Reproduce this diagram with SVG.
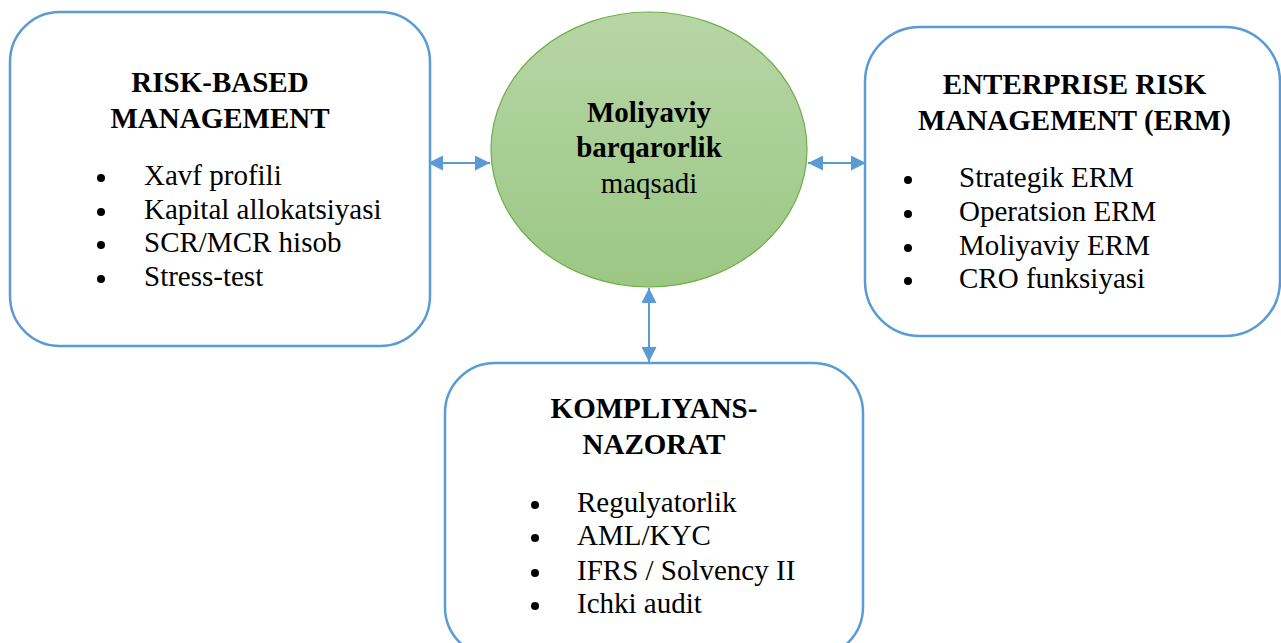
<svg xmlns="http://www.w3.org/2000/svg" width="1281" height="643" viewBox="0 0 1281 643">
<style>
.box{fill:#ffffff;stroke:#5B9BD5;stroke-width:2.5}
.t{font-family:"Liberation Serif","Times New Roman",serif;font-size:29px;fill:#000}
.b{font-weight:bold}
.m{text-anchor:middle}
.dot{fill:#000}
.conn{stroke:#5B9BD5;stroke-width:2;fill:none;marker-start:url(#ah);marker-end:url(#ah)}
</style>
<defs>
<linearGradient id="g" x1="0" y1="0" x2="0" y2="1">
<stop offset="0" stop-color="#B7D6A6"/>
<stop offset="1" stop-color="#9BC784"/>
</linearGradient>
<marker id="ah" viewBox="0 0 10 10" refX="10" refY="5" markerWidth="8" markerHeight="7.5" markerUnits="strokeWidth" orient="auto-start-reverse">
<path d="M0,0 L10,5 L0,10 z" fill="#5B9BD5"/>
</marker>
</defs>
<rect width="1281" height="643" fill="#ffffff"/>
<g id="connectors">
<line class="conn" x1="428" y1="163" x2="490" y2="163"/>
<line class="conn" x1="808" y1="163" x2="866" y2="163"/>
<line class="conn" x1="649" y1="288" x2="649" y2="362"/>
</g>
<g id="node-risk-based">
<rect class="box" x="10" y="12" width="420" height="334" rx="50" ry="50"/>
<text class="t b m" x="220" y="92">RISK-BASED</text>
<text class="t b m" x="220" y="128">MANAGEMENT</text>
<circle class="dot" cx="101" cy="178" r="4"/>
<circle class="dot" cx="101" cy="212" r="4"/>
<circle class="dot" cx="101" cy="245" r="4"/>
<circle class="dot" cx="101" cy="279" r="4"/>
<text class="t" x="144" y="185">Xavf profili</text>
<text class="t" x="144" y="219">Kapital allokatsiyasi</text>
<text class="t" x="144" y="252">SCR/MCR hisob</text>
<text class="t" x="144" y="286">Stress-test</text>
</g>
<g id="node-center">
<ellipse cx="649" cy="149.5" rx="158" ry="137.5" fill="url(#g)" stroke="#70AD47" stroke-width="1.2"/>
<text class="t b m" x="649" y="122">Moliyaviy</text>
<text class="t b m" x="649" y="157">barqarorlik</text>
<text class="t m" x="649" y="193">maqsadi</text>
</g>
<g id="node-erm">
<rect class="box" x="865" y="27" width="415" height="309" rx="55" ry="55"/>
<text class="t b m" x="1074.5" y="94">ENTERPRISE RISK</text>
<text class="t b m" x="1074.5" y="130">MANAGEMENT (ERM)</text>
<circle class="dot" cx="908" cy="180" r="4"/>
<circle class="dot" cx="908" cy="214" r="4"/>
<circle class="dot" cx="908" cy="248" r="4"/>
<circle class="dot" cx="908" cy="281" r="4"/>
<text class="t" x="959" y="187">Strategik ERM</text>
<text class="t" x="959" y="221">Operatsion ERM</text>
<text class="t" x="959" y="255">Moliyaviy ERM</text>
<text class="t" x="959" y="288">CRO funksiyasi</text>
</g>
<g id="node-kompliyans">
<rect class="box" x="445" y="363" width="418" height="294" rx="50" ry="50"/>
<text class="t b m" x="654" y="418">KOMPLIYANS-</text>
<text class="t b m" x="654" y="454">NAZORAT</text>
<circle class="dot" cx="535" cy="505" r="4"/>
<circle class="dot" cx="535" cy="538" r="4"/>
<circle class="dot" cx="535" cy="573" r="4"/>
<circle class="dot" cx="535" cy="606" r="4"/>
<text class="t" x="577" y="512">Regulyatorlik</text>
<text class="t" x="577" y="545">AML/KYC</text>
<text class="t" x="577" y="580">IFRS / Solvency II</text>
<text class="t" x="577" y="613">Ichki audit</text>
</g>
</svg>
